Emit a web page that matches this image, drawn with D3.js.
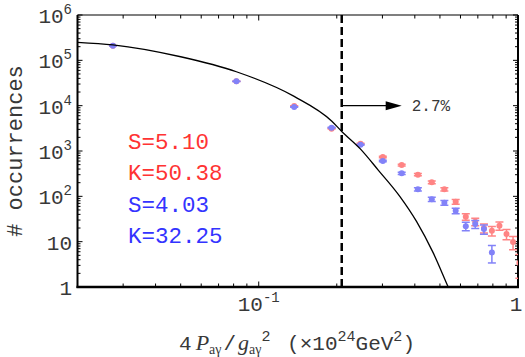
<!DOCTYPE html>
<html>
<head>
<meta charset="utf-8">
<script src="https://cdn.jsdelivr.net/npm/d3@7"></script>
<style>
  body { margin: 0; background: #fff; }
  svg { display: block; }
  text { font-family: "Liberation Mono", "DejaVu Sans Mono", monospace; fill: #383838; }
</style>
</head>
<body>
<div id="chart"></div>
<script>
// bin centres (4 P / g^2, in 1e24 GeV^2)
var binCenters = [0.0274, 0.082, 0.137, 0.191, 0.247, 0.301, 0.356, 0.411, 0.465, 0.520,
                  0.575, 0.629, 0.684, 0.739, 0.793, 0.848, 0.903, 0.957, 1.012];
var redCounts  = [2.1e5, 3.45e4, 9.8e3, 3.1e3, 1.45e3, 738, 491, 300, 204, 143,
                  76, 35.5, 27.6, 20, 17.5, 22.5, 14.8, 9.8, 3.4];
var blueCounts = [2.1e5, 3.45e4, 9.35e3, 3.27e3, 1.38e3, 602, 322, 143, 86, 72,
                  48, 22, 24.5, 19, 5.8, null, null, null, null];

// fitted curve
var curveX = [0.02, 0.0274, 0.05, 0.082, 0.137, 0.191, 0.209, 0.247, 0.289, 0.35, 0.406, 0.47, 0.538, 0.56];
var curveY = [2.5e5, 2.2e5, 1.2e5, 5.6e4, 1.6e4, 4.6e3, 2.7e3, 1.1e3, 380, 100, 28, 5.8, 1, 0.6];

var cutValue = 0.209;
var cutLabel = "2.7%";
var statsRed  = ["S=5.10", "K=50.38"];
var statsBlue = ["S=4.03", "K=32.25"];

var yTickExp = [0, 1, 2, 3, 4, 5, 6];

var W = 525, H = 357;
var pLeft = 77.5, pRight = 518, pTop = 15, pBottom = 287;

var svg = d3.select("#chart").append("svg")
    .attr("width", W)
    .attr("height", H);

var x = d3.scaleLog().domain([0.02, 1]).range([pLeft, pRight]);
var y = d3.scaleLog().domain([1, 1e6]).range([pBottom, pTop]);

svg.append("defs").append("clipPath").attr("id", "plotclip")
  .append("rect")
    .attr("x", pLeft).attr("y", pTop)
    .attr("width", pRight - pLeft).attr("height", pBottom - pTop);

// ##### ticks (inward, on all four sides) #####
var xMinor = [];
[0.01, 0.1].forEach(function(d) {
    for (var k = 2; k <= 9; k++) {
        var v = d * k;
        if (v > 0.0201 && v < 1) xMinor.push(v);
    }
});
var yMinor = [];
for (var e = 0; e < 6; e++) {
    for (var k = 2; k <= 9; k++) yMinor.push(k * Math.pow(10, e));
}

var ticks = svg.append("g").attr("stroke", "#000").attr("stroke-width", 1);

xMinor.forEach(function(v) {
    ticks.append("line").attr("x1", x(v)).attr("x2", x(v)).attr("y1", pBottom).attr("y2", pBottom - 3.5);
    ticks.append("line").attr("x1", x(v)).attr("x2", x(v)).attr("y1", pTop).attr("y2", pTop + 3.5);
});
[0.1].forEach(function(v) {
    ticks.append("line").attr("x1", x(v)).attr("x2", x(v)).attr("y1", pBottom).attr("y2", pBottom - 5.5);
    ticks.append("line").attr("x1", x(v)).attr("x2", x(v)).attr("y1", pTop).attr("y2", pTop + 5.5);
});
yMinor.forEach(function(v) {
    ticks.append("line").attr("x1", pLeft).attr("x2", pLeft + 3).attr("y1", y(v)).attr("y2", y(v));
    ticks.append("line").attr("x1", pRight).attr("x2", pRight - 3).attr("y1", y(v)).attr("y2", y(v));
});
yTickExp.forEach(function(e) {
    var v = Math.pow(10, e);
    ticks.append("line").attr("x1", pLeft).attr("x2", pLeft + 5).attr("y1", y(v)).attr("y2", y(v));
    ticks.append("line").attr("x1", pRight).attr("x2", pRight - 5).attr("y1", y(v)).attr("y2", y(v));
});

// frame
svg.append("line").attr("x1", pLeft).attr("x2", pRight).attr("y1", pTop).attr("y2", pTop)
    .attr("stroke", "#000").attr("stroke-width", 1.2);
svg.append("line").attr("x1", pRight).attr("x2", pRight).attr("y1", pTop).attr("y2", pBottom)
    .attr("stroke", "#000").attr("stroke-width", 2);
svg.append("line").attr("x1", pLeft).attr("x2", pLeft).attr("y1", pTop).attr("y2", pBottom + 1)
    .attr("stroke", "#000").attr("stroke-width", 2);
svg.append("line").attr("x1", pLeft - 1).attr("x2", pRight + 1).attr("y1", pBottom).attr("y2", pBottom)
    .attr("stroke", "#000").attr("stroke-width", 2.6);

// ##### tick labels #####
yTickExp.forEach(function(e) {
    var t = svg.append("text")
        .attr("x", 72)
        .attr("y", y(Math.pow(10, e)) + 8)
        .attr("text-anchor", "end")
        .style("font-size", "21px");
    if (e === 0) {
        t.text("1");
    } else if (e === 1) {
        t.text("10");
    } else {
        t.append("tspan").text("10");
        t.append("tspan").attr("dy", -9).style("font-size", "14px").text(e);
    }
});

var xl = svg.append("text")
    .attr("x", x(0.1))
    .attr("y", 311)
    .attr("text-anchor", "middle")
    .style("font-size", "21px");
xl.append("tspan").text("10");
xl.append("tspan").attr("dy", -9).style("font-size", "14px").text("-1");

svg.append("text")
    .attr("x", x(1) - 2)
    .attr("y", 311)
    .attr("text-anchor", "middle")
    .style("font-size", "21px")
    .text("1");

// ##### axis titles #####
svg.append("text")
    .attr("transform", "translate(22," + ((pTop + pBottom) / 2) + ") rotate(-90)")
    .attr("text-anchor", "middle")
    .style("font-size", "22px")
    .text("# occurrences");

var serif = "'Liberation Serif', 'DejaVu Serif', serif";
var xt = svg.append("text")
    .attr("x", 297)
    .attr("y", 350)
    .attr("text-anchor", "middle")
    .style("font-size", "21px");
xt.append("tspan").text("4");
xt.append("tspan").attr("dx", 4).style("font-family", serif).style("font-style", "italic").style("font-size", "22px").text("P");
xt.append("tspan").attr("dy", 4).style("font-family", serif).style("font-size", "14px").text("a\u03b3");
xt.append("tspan").attr("dy", -4).attr("dx", 2).text("/");
xt.append("tspan").attr("dx", 2).style("font-family", serif).style("font-style", "italic").style("font-size", "22px").text("g");
xt.append("tspan").attr("dy", 4).style("font-family", serif).style("font-size", "14px").text("a\u03b3");
xt.append("tspan").attr("dy", -13).style("font-size", "15px").text("2");
xt.append("tspan").attr("dy", 9).attr("dx", 4).text("  (\u00d710");
xt.append("tspan").attr("dy", -9).style("font-size", "15px").text("24");
xt.append("tspan").attr("dy", 9).text("GeV");
xt.append("tspan").attr("dy", -9).style("font-size", "15px").text("2");
xt.append("tspan").attr("dy", 9).text(")");

// ##### data #####
var plot = svg.append("g").attr("clip-path", "url(#plotclip)");

function drawSeries(counts, color) {
    var pts = [];
    for (var i = 0; i < binCenters.length; i++) {
        if (counts[i] != null) pts.push({v: binCenters[i], c: counts[i]});
    }
    var g = plot.append("g").attr("stroke", color).attr("fill", color);
    pts.forEach(function(p) {
        var err = Math.sqrt(p.c);
        var hi = y(p.c + err), lo = y(Math.max(p.c - err, 0.5));
        var cx = x(p.v);
        g.append("line").attr("x1", cx).attr("x2", cx).attr("y1", hi).attr("y2", lo).attr("stroke-width", 1.5);
        g.append("line").attr("x1", cx - 4).attr("x2", cx + 4).attr("y1", hi).attr("y2", hi).attr("stroke-width", 1.5);
        g.append("line").attr("x1", cx - 4).attr("x2", cx + 4).attr("y1", lo).attr("y2", lo).attr("stroke-width", 1.5);
        g.append("circle").attr("cx", cx).attr("cy", y(p.c)).attr("r", 3).attr("stroke", "none");
    });
}
drawSeries(redCounts, "#ff8484");
drawSeries(blueCounts, "#8282f8");

var line = d3.line()
    .x(function(d) { return x(d[0]); })
    .y(function(d) { return y(d[1]); })
    .curve(d3.curveMonotoneX);

plot.append("path")
    .datum(d3.zip(curveX, curveY))
    .attr("d", line)
    .attr("fill", "none")
    .attr("stroke", "#000")
    .attr("stroke-width", 1.3);

// cut line
svg.append("line")
    .attr("x1", x(cutValue)).attr("x2", x(cutValue))
    .attr("y1", pTop).attr("y2", pBottom)
    .attr("stroke", "#000")
    .attr("stroke-width", 2.5)
    .attr("stroke-dasharray", "8,4");

// arrow
var ay = y(1e4);
svg.append("line")
    .attr("x1", x(cutValue) + 1).attr("x2", x(0.33))
    .attr("y1", ay).attr("y2", ay)
    .attr("stroke", "#000").attr("stroke-width", 1.3);
svg.append("path")
    .attr("d", "M" + x(0.356) + "," + ay + "L" + (x(0.356) - 16) + "," + (ay - 4.5) +
               "L" + (x(0.356) - 16) + "," + (ay + 4.5) + "Z")
    .attr("fill", "#000");
svg.append("text")
    .attr("x", x(0.356) + 10)
    .attr("y", ay + 5)
    .style("font-size", "16px")
    .text(cutLabel);

// skewness / kurtosis
var labels = [
    {t: statsRed[0], c: "#ff3333"},
    {t: statsRed[1], c: "#ff3333"},
    {t: statsBlue[0], c: "#3333ff"},
    {t: statsBlue[1], c: "#3333ff"}
];
labels.forEach(function(d, i) {
    svg.append("text")
        .attr("x", x(0.0313))
        .attr("y", 149 + i * 31.3)
        .style("font-size", "22.5px")
        .style("fill", d.c)
        .text(d.t);
});
</script>
</body>
</html>
